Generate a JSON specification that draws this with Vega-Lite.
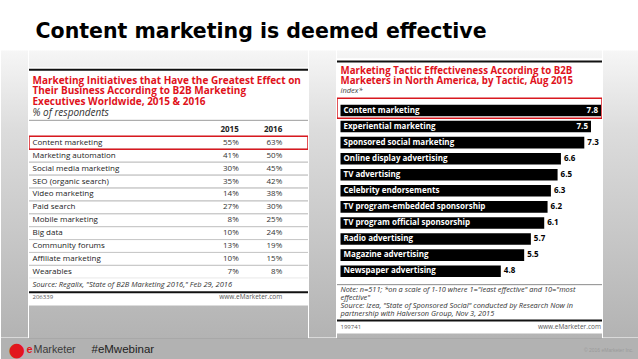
{
  "$schema": "https://vega.github.io/schema/vega-lite/v6.json",
  "background": "white",
  "padding": {"top": 21.5, "left": 0, "right": 0, "bottom": 0},
  "spacing": 0,
  "title": {"text": "Content marketing is deemed effective", "anchor": "start", "dx": 35, "offset": 8, "font": "DejaVu Sans", "fontSize": 20.5, "fontWeight": "bold", "color": "#000000"},
  "config": {"view": {"stroke": null}, "font": "Open Sans", "concat": {"spacing": 0}},
  "datasets": {
    "leftTable": [
      {"initiative": "Content marketing", "year": "2015", "share": 0.55},
      {"initiative": "Content marketing", "year": "2016", "share": 0.63},
      {"initiative": "Marketing automation", "year": "2015", "share": 0.41},
      {"initiative": "Marketing automation", "year": "2016", "share": 0.50},
      {"initiative": "Social media marketing", "year": "2015", "share": 0.30},
      {"initiative": "Social media marketing", "year": "2016", "share": 0.45},
      {"initiative": "SEO (organic search)", "year": "2015", "share": 0.35},
      {"initiative": "SEO (organic search)", "year": "2016", "share": 0.42},
      {"initiative": "Video marketing", "year": "2015", "share": 0.14},
      {"initiative": "Video marketing", "year": "2016", "share": 0.38},
      {"initiative": "Paid search", "year": "2015", "share": 0.27},
      {"initiative": "Paid search", "year": "2016", "share": 0.30},
      {"initiative": "Mobile marketing", "year": "2015", "share": 0.08},
      {"initiative": "Mobile marketing", "year": "2016", "share": 0.25},
      {"initiative": "Big data", "year": "2015", "share": 0.10},
      {"initiative": "Big data", "year": "2016", "share": 0.24},
      {"initiative": "Community forums", "year": "2015", "share": 0.13},
      {"initiative": "Community forums", "year": "2016", "share": 0.19},
      {"initiative": "Affiliate marketing", "year": "2015", "share": 0.10},
      {"initiative": "Affiliate marketing", "year": "2016", "share": 0.15},
      {"initiative": "Wearables", "year": "2015", "share": 0.07},
      {"initiative": "Wearables", "year": "2016", "share": 0.08}
    ],
    "tactics": [
      {"tactic": "Content marketing", "index": 7.8},
      {"tactic": "Experiential marketing", "index": 7.5},
      {"tactic": "Sponsored social marketing", "index": 7.3},
      {"tactic": "Online display advertising", "index": 6.6},
      {"tactic": "TV advertising", "index": 6.5},
      {"tactic": "Celebrity endorsements", "index": 6.3},
      {"tactic": "TV program-embedded sponsorship", "index": 6.2},
      {"tactic": "TV program official sponsorship", "index": 6.1},
      {"tactic": "Radio advertising", "index": 5.7},
      {"tactic": "Magazine advertising", "index": 5.5},
      {"tactic": "Newspaper advertising", "index": 4.8}
    ]
  },
  "vconcat": [
    {
      "spacing": 0,
      "hconcat": [
        {"width": 27, "height": 287, "view": {"stroke": null, "fill": {"gradient": "linear", "x1": 0, "y1": 0, "x2": 0, "y2": 1, "stops": [{"offset": 0, "color": "#f6f6f6"}, {"offset": 0.279, "color": "#dcdcdc"}, {"offset": 1, "color": "#b3b3b3"}]}}, "data": {"values": [{"k": 1}]}, "mark": {"type": "rule", "strokeOpacity": 0}, "encoding": {}},
        {
          "spacing": 0,
          "vconcat": [
            {"width": 279, "height": 17, "view": {"stroke": null, "fill": {"gradient": "linear", "x1": 0, "y1": 0, "x2": 0, "y2": 1, "stops": [{"offset": 0, "color": "#f6f6f6"}, {"offset": 1, "color": "#f0f0f0"}]}}, "data": {"values": [{"k": 1}]}, "mark": {"type": "rule", "strokeOpacity": 0}, "encoding": {}},
            {
              "width": 279, "height": 55,
              "view": {"fill": "white", "stroke": null},
              "layer": [
                {
                  "data": {"values": [{"line": "Marketing Initiatives that Have the Greatest Effect on"}]},
                  "mark": {"type": "rule", "color": "#111111", "strokeWidth": 2, "clip": true},
                  "encoding": {"y": {"field": "line", "type": "nominal", "bandPosition": -0.5,
                    "scale": {"type": "band", "domain": ["Marketing Initiatives that Have the Greatest Effect on", "Their Business According to B2B Marketing", "Executives Worldwide, 2015 & 2016", "% of respondents"], "range": [7.62, 50.68], "paddingInner": 0, "paddingOuter": 0},
                    "axis": {"orient": "left", "title": null, "domain": false, "ticks": false, "grid": false, "labelAlign": "left", "labelPadding": -3, "labelLimit": 275, "labelOverlap": false, "labelFont": "Open Sans", "labelFontSize": 10,
                      "labelFontWeight": {"condition": {"test": "datum.value === '% of respondents'", "value": "normal"}, "value": "bold"},
                      "labelFontStyle": {"condition": {"test": "datum.value === '% of respondents'", "value": "italic"}, "value": "normal"},
                      "labelColor": {"condition": {"test": "datum.value === '% of respondents'", "value": "#333333"}, "value": "#e0121b"}}}}
                },
                {
                  "data": {"values": [{"line": "% of respondents"}]},
                  "mark": {"type": "rule", "color": "#9d9d9d", "strokeWidth": 1, "clip": true},
                  "encoding": {"y": {"field": "line", "type": "nominal", "bandPosition": 1.2}}
                }
              ]
            },
            {
              "width": 279, "height": 156,
              "view": {"fill": "white", "stroke": null},
              "layer": [
                {
                  "data": {"name": "leftTable"},
                  "transform": [{"filter": "datum.year === '2015'"}],
                  "mark": {"type": "rule", "color": "#c9c9c9", "strokeWidth": 1, "clip": true},
                  "encoding": {"y": {"field": "initiative", "type": "nominal", "bandPosition": 0,
                    "scale": {"type": "band", "domain": [" ", "Content marketing", "Marketing automation", "Social media marketing", "SEO (organic search)", "Video marketing", "Paid search", "Mobile marketing", "Big data", "Community forums", "Affiliate marketing", "Wearables"], "range": [0.95, 155.75], "paddingInner": 0, "paddingOuter": 0},
                    "axis": {"orient": "left", "title": null, "domain": false, "ticks": false, "grid": false, "labelAlign": "left", "labelPadding": -3, "labelLimit": 200, "labelOverlap": false, "labelFont": "Open Sans", "labelFontSize": 8, "labelColor": "#222222"}}}
                },
                {
                  "data": {"name": "leftTable"},
                  "transform": [{"filter": "datum.year === '2015'"}],
                  "mark": {"type": "rule", "color": "#c9c9c9", "strokeWidth": 1, "clip": true},
                  "encoding": {"y": {"field": "initiative", "type": "nominal", "bandPosition": 1}}
                },
                {
                  "data": {"name": "leftTable"},
                  "transform": [{"filter": "datum.year === '2015' && datum.initiative === 'Content marketing'"}],
                  "mark": {"type": "rect", "filled": false, "color": "#d8181f", "strokeWidth": 1.5, "clip": true},
                  "encoding": {"y": {"field": "initiative", "type": "nominal"}}
                },
                {
                  "data": {"name": "leftTable"},
                  "mark": {"type": "text", "align": "right", "font": "Open Sans", "fontSize": 8, "color": "#333333"},
                  "encoding": {
                    "y": {"field": "initiative", "type": "nominal"},
                    "x": {"field": "year", "type": "nominal", "scale": {"type": "point", "domain": ["2015", "2016"], "range": [188, 275]}, "axis": null},
                    "text": {"field": "share", "type": "quantitative", "format": ".0%"}
                  }
                },
                {
                  "data": {"values": [{"year": "2015", "initiative": " "}, {"year": "2016", "initiative": " "}]},
                  "mark": {"type": "text", "align": "right", "font": "Open Sans", "fontSize": 8, "fontWeight": "bold", "color": "#222222"},
                  "encoding": {
                    "y": {"field": "initiative", "type": "nominal"},
                    "x": {"field": "year", "type": "nominal"},
                    "text": {"field": "year", "type": "nominal"}
                  }
                }
              ]
            },
            {
              "width": 279, "height": 26,
              "view": {"fill": "white", "stroke": null},
              "layer": [
                {
                  "data": {"values": [{"line": "206339"}]},
                  "mark": {"type": "rule", "color": "#111111", "strokeWidth": 2, "clip": true},
                  "encoding": {"y": {"field": "line", "type": "nominal", "bandPosition": 0.1,
                    "scale": {"type": "band", "domain": ["Source: Regalix, \"State of B2B Marketing 2016,\" Feb 29, 2016", "206339"], "range": [0, 25], "paddingInner": 0, "paddingOuter": 0},
                    "axis": {"orient": "left", "title": null, "domain": false, "ticks": false, "grid": false, "labelAlign": "left", "labelPadding": -3, "labelLimit": 275, "labelOverlap": false, "labelFont": "Open Sans",
                      "labelFontSize": {"condition": {"test": "datum.value === '206339'", "value": 6}, "value": 7.5},
                      "labelFontStyle": {"condition": {"test": "datum.value === '206339'", "value": "normal"}, "value": "italic"},
                      "labelColor": {"condition": {"test": "datum.value === '206339'", "value": "#555555"}, "value": "#333333"}}}}
                },
                {
                  "data": {"values": [{"site": "www.eMarketer.com", "line": "206339", "year": "2016"}]},
                  "mark": {"type": "text", "align": "right", "font": "Open Sans", "fontSize": 6.5, "color": "#555555"},
                  "encoding": {
                    "y": {"field": "line", "type": "nominal"},
                    "x": {"field": "year", "type": "nominal", "scale": {"type": "point", "domain": ["2015", "2016"], "range": [188, 275]}, "axis": null},
                    "text": {"field": "site", "type": "nominal"}
                  }
                }
              ]
            },
            {"width": 279, "height": 33, "view": {"stroke": null, "fill": {"gradient": "linear", "x1": 0, "y1": 0, "x2": 0, "y2": 1, "stops": [{"offset": 0, "color": "#b9b9b9"}, {"offset": 1, "color": "#b3b3b3"}]}}, "data": {"values": [{"k": 1}]}, "mark": {"type": "rule", "strokeOpacity": 0}, "encoding": {}}
          ]
        },
        {"width": 27, "height": 287, "view": {"stroke": null, "fill": {"gradient": "linear", "x1": 0, "y1": 0, "x2": 0, "y2": 1, "stops": [{"offset": 0, "color": "#f6f6f6"}, {"offset": 0.279, "color": "#dcdcdc"}, {"offset": 1, "color": "#b3b3b3"}]}}, "data": {"values": [{"k": 1}]}, "mark": {"type": "rule", "strokeOpacity": 0}, "encoding": {}},
        {
          "spacing": 0,
          "vconcat": [
            {"width": 265, "height": 8, "view": {"stroke": null, "fill": {"gradient": "linear", "x1": 0, "y1": 0, "x2": 0, "y2": 1, "stops": [{"offset": 0, "color": "#f6f6f6"}, {"offset": 1, "color": "#f3f3f3"}]}}, "data": {"values": [{"k": 1}]}, "mark": {"type": "rule", "strokeOpacity": 0}, "encoding": {}},
            {
              "width": 265, "height": 38,
              "view": {"fill": "white", "stroke": null},
              "data": {"values": [{"line": "Marketing Tactic Effectiveness According to B2B"}]},
              "mark": {"type": "rule", "color": "#111111", "strokeWidth": 2, "clip": true},
              "encoding": {
                "y": {"field": "line", "type": "nominal", "bandPosition": -0.4,
                  "scale": {"type": "band", "domain": ["Marketing Tactic Effectiveness According to B2B", "Marketers in North America, by Tactic, Aug 2015", "index*"], "range": [7, 37], "paddingInner": 0, "paddingOuter": 0},
                  "axis": {"orient": "left", "title": null, "domain": false, "ticks": false, "grid": false, "labelAlign": "left", "labelPadding": -3, "labelLimit": 260, "labelOverlap": false, "labelFont": "Open Sans",
                    "labelFontSize": {"condition": {"test": "datum.value === 'index*'", "value": 7.5}, "value": 9.7},
                    "labelFontWeight": {"condition": {"test": "datum.value === 'index*'", "value": "normal"}, "value": "bold"},
                    "labelFontStyle": {"condition": {"test": "datum.value === 'index*'", "value": "italic"}, "value": "normal"},
                    "labelColor": {"condition": {"test": "datum.value === 'index*'", "value": "#444444"}, "value": "#e0121b"}}}}
            },
            {
              "width": 265, "height": 186,
              "view": {"fill": "white", "stroke": null},
              "resolve": {"scale": {"y": "independent"}, "axis": {"y": "independent"}},
              "layer": [
                {
                  "data": {"name": "tactics"},
                  "layer": [
                    {
                      "mark": {"type": "bar", "color": "#000000"},
                      "encoding": {
                        "y": {"field": "tactic", "type": "nominal",
                          "scale": {"type": "band", "domain": ["Content marketing", "Experiential marketing", "Sponsored social marketing", "Online display advertising", "TV advertising", "Celebrity endorsements", "TV program-embedded sponsorship", "TV program official sponsorship", "Radio advertising", "Magazine advertising", "Newspaper advertising"], "range": [5.97, 182.7], "paddingInner": 0.28, "paddingOuter": 0.14},
                          "axis": {"orient": "left", "title": null, "domain": false, "ticks": false, "grid": false, "labelAlign": "left", "labelPadding": -6, "labelLimit": 240, "labelOverlap": false, "labelFont": "Open Sans", "labelFontSize": 8, "labelFontWeight": "bold", "labelColor": "#ffffff", "zindex": 1}},
                        "x": {"field": "index", "type": "quantitative", "scale": {"domain": [0, 7.8], "range": [3.5, 264], "nice": false}, "axis": null}
                      }
                    },
                    {
                      "transform": [{"filter": "datum.index >= 7.5"}],
                      "mark": {"type": "text", "align": "right", "dx": -3, "font": "Open Sans", "fontSize": 8, "fontWeight": "bold", "color": "#ffffff"},
                      "encoding": {
                        "y": {"field": "tactic", "type": "nominal"},
                        "x": {"field": "index", "type": "quantitative"},
                        "text": {"field": "index", "type": "quantitative", "format": ".1f"}
                      }
                    },
                    {
                      "transform": [{"filter": "datum.index < 7.5"}],
                      "mark": {"type": "text", "align": "left", "dx": 3, "font": "Open Sans", "fontSize": 8, "fontWeight": "bold", "color": "#000000"},
                      "encoding": {
                        "y": {"field": "tactic", "type": "nominal"},
                        "x": {"field": "index", "type": "quantitative"},
                        "text": {"field": "index", "type": "quantitative", "format": ".1f"}
                      }
                    }
                  ]
                },
                {
                  "data": {"name": "tactics"},
                  "transform": [{"filter": "datum.tactic === 'Content marketing'"}],
                  "mark": {"type": "rect", "filled": false, "color": "#d8181f", "strokeWidth": 1.5, "clip": true},
                  "encoding": {"y": {"field": "tactic", "type": "nominal", "scale": {"type": "band", "domain": ["Content marketing"], "range": [1.7, 21.7], "paddingInner": 0, "paddingOuter": 0}, "axis": null}}
                }
              ]
            },
            {
              "width": 265, "height": 50,
              "view": {"fill": "white", "stroke": null},
              "resolve": {"scale": {"y": "independent"}, "axis": {"y": "independent"}},
              "layer": [
                {
                  "data": {"values": [{"line": "Note: n=511; *on a scale of 1-10 where 1=\"least effective\" and 10=\"most"}]},
                  "mark": {"type": "rule", "color": "#8a8a8a", "strokeWidth": 1, "clip": true},
                  "encoding": {
                    "y": {"field": "line", "type": "nominal", "bandPosition": -0.25,
                    "scale": {"type": "band", "domain": ["Note: n=511; *on a scale of 1-10 where 1=\"least effective\" and 10=\"most", "effective\"", "Source: Izea, \"State of Sponsored Social\" conducted by Research Now in", "partnership with Halverson Group, Nov 3, 2015"], "range": [4.1, 35.2], "paddingInner": 0, "paddingOuter": 0},
                    "axis": {"orient": "left", "title": null, "domain": false, "ticks": false, "grid": false, "labelAlign": "left", "labelPadding": -3, "labelLimit": 262, "labelOverlap": false, "labelFont": "Open Sans", "labelFontSize": 7.4, "labelFontStyle": "italic", "labelColor": "#333333"}}}
                },
                {
                  "data": {"values": [{"site": "www.eMarketer.com", "line": "199741", "index": 7.8}]},
                  "layer": [
                    {
                      "mark": {"type": "rule", "color": "#111111", "strokeWidth": 2, "clip": true},
                      "encoding": {
                        "y": {"field": "line", "type": "nominal", "bandPosition": 0,
                          "scale": {"type": "band", "domain": ["199741"], "range": [38, 50], "paddingInner": 0, "paddingOuter": 0},
                          "axis": {"orient": "left", "title": null, "domain": false, "ticks": false, "grid": false, "labelAlign": "left", "labelPadding": -3, "labelOverlap": false, "labelFont": "Open Sans", "labelFontSize": 6, "labelColor": "#555555"}}
                      }
                    },
                    {
                      "mark": {"type": "text", "align": "right", "font": "Open Sans", "fontSize": 6.5, "color": "#555555"},
                      "encoding": {
                        "y": {"field": "line", "type": "nominal"},
                        "x": {"field": "index", "type": "quantitative", "scale": {"domain": [0, 7.8], "range": [3.5, 264], "nice": false}, "axis": null},
                        "text": {"field": "site", "type": "nominal"}
                      }
                    }
                  ]
                }
              ]
            },
            {"width": 265, "height": 5, "view": {"stroke": null, "fill": {"gradient": "linear", "x1": 0, "y1": 0, "x2": 0, "y2": 1, "stops": [{"offset": 0, "color": "#b4b4b4"}, {"offset": 1, "color": "#b3b3b3"}]}}, "data": {"values": [{"k": 1}]}, "mark": {"type": "rule", "strokeOpacity": 0}, "encoding": {}}
          ]
        },
        {"width": 40, "height": 287, "view": {"stroke": null, "fill": {"gradient": "linear", "x1": 0, "y1": 0, "x2": 0, "y2": 1, "stops": [{"offset": 0, "color": "#f6f6f6"}, {"offset": 0.279, "color": "#dcdcdc"}, {"offset": 1, "color": "#b3b3b3"}]}}, "data": {"values": [{"k": 1}]}, "mark": {"type": "rule", "strokeOpacity": 0}, "encoding": {}}
      ]
    },
    {
      "width": 638, "height": 22,
      "view": {"fill": "#b2b2b2", "stroke": null},
      "resolve": {"scale": {"y": "independent"}, "axis": {"y": "independent"}},
      "layer": [
        {
          "data": {"values": [{"edge": "top"}]},
          "mark": {"type": "rule", "color": "#8c8c8c", "strokeWidth": 1, "clip": true},
          "encoding": {"y": {"field": "edge", "type": "nominal", "bandPosition": 0, "scale": {"type": "band", "range": [0, 22], "paddingInner": 0, "paddingOuter": 0}, "axis": null}}
        },
        {
          "data": {"values": [{"item": "●"}, {"item": "e"}, {"item": "Marketer"}, {"item": "#eMwebinar"}, {"item": "© 2016 eMarketer Inc."}]},
          "mark": {"type": "rule", "strokeOpacity": 0},
          "encoding": {"y": {"field": "item", "type": "nominal", "sort": null,
            "scale": {"type": "point", "range": [11, 11], "padding": 0},
            "axis": {"orient": "left", "title": null, "domain": false, "ticks": false, "grid": false, "labelOverlap": false, "labelLimit": 300,
              "labelAlign": {"condition": {"test": "datum.value === '© 2016 eMarketer Inc.'", "value": "right"}, "value": "left"},
              "labelPadding": {"condition": [
                {"test": "datum.value === '●'", "value": -7},
                {"test": "datum.value === 'e'", "value": -25},
                {"test": "datum.value === 'Marketer'", "value": -32},
                {"test": "datum.value === '#eMwebinar'", "value": -90}
              ], "value": -632},
              "labelFontSize": {"condition": [
                {"test": "datum.value === '●'", "value": 19},
                {"test": "datum.value === 'e'", "value": 11},
                {"test": "datum.value === 'Marketer'", "value": 10.7},
                {"test": "datum.value === '#eMwebinar'", "value": 11.5}
              ], "value": 5},
              "labelColor": {"condition": [
                {"test": "datum.value === '●'", "value": "#e2161d"},
                {"test": "datum.value === 'e'", "value": "#e2161d"},
                {"test": "datum.value === 'Marketer'", "value": "#3a3a3a"},
                {"test": "datum.value === '#eMwebinar'", "value": "#1e1e1e"}
              ], "value": "#9a9a9a"},
              "labelFont": {"condition": {"test": "datum.value === '●'", "value": "DejaVu Sans"}, "value": "Liberation Sans"},
              "labelFontWeight": {"condition": {"test": "datum.value === 'e'", "value": "bold"}, "value": "normal"}
            }}}
        }
      ]
    }
  ]
}
